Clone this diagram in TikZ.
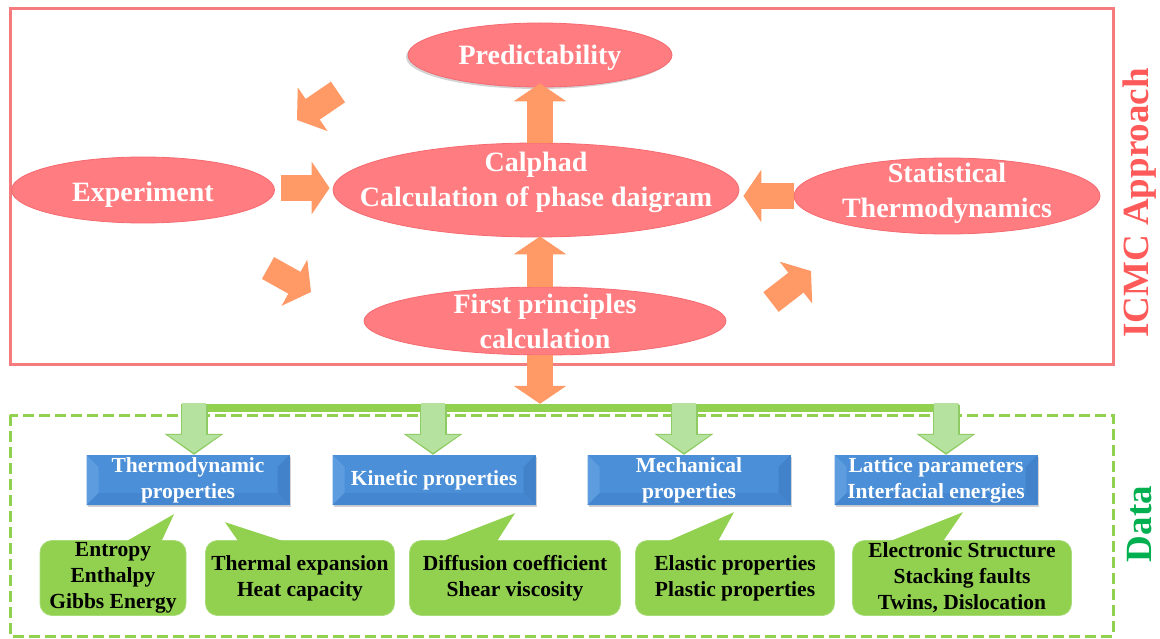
\documentclass[tikz,border=0pt]{standalone}
\usepackage{fontspec}
\setmainfont{Liberation Serif}
\usetikzlibrary{shapes.geometric,arrows.meta,calc,shadows}
\definecolor{ellred}{HTML}{FF7C80}
\definecolor{ellborder}{HTML}{F46A70}
\definecolor{frame}{HTML}{F47C7E}
\definecolor{orng}{HTML}{FF9966}
\definecolor{boxblue}{HTML}{4A8FD8}
\definecolor{bevelL}{HTML}{5C9CDF}
\definecolor{bevelD}{HTML}{4282CB}
\definecolor{callgreen}{HTML}{92D050}
\definecolor{callborder}{HTML}{A8DC78}
\definecolor{dashgreen}{HTML}{92D050}
\definecolor{arrgreen}{HTML}{B6E2A0}
\definecolor{arrgreenD}{HTML}{8ECB62}
\definecolor{icmcred}{HTML}{FF5A5A}
\definecolor{datagreen}{HTML}{00B050}
\tikzset{
  ell/.style={ellipse, fill=ellred, draw=ellborder, line width=0.8pt, inner sep=0pt},
  elltext/.style={inner sep=0pt, text=white, font=\bfseries\fontsize{28}{35}\selectfont, align=center},
  fat/.style={draw=orng, line width=26pt, -{Triangle[width=52pt,length=18pt]}},
  diag/.style={draw=orng, line width=25pt, -{Triangle[width=52pt,length=19pt]}},
  garrowout/.style={draw=arrgreenD, line width=27pt, -{Triangle[width=58pt,length=21pt]}},
  garrowin/.style={draw=arrgreen, line width=24pt, shorten >=2pt, -{Triangle[width=52pt,length=18pt]}},
  bluebox/.style={rectangle, fill=boxblue, minimum width=203pt, minimum height=50pt, inner sep=0pt,
    text=white, font=\bfseries\fontsize{21.5}{26}\selectfont, align=center,
    drop shadow={opacity=0.35, shadow xshift=1pt, shadow yshift=-2pt},
    path picture={
      \fill[bevelL] (path picture bounding box.north west) -- ++(12pt,-12pt) -- ($(path picture bounding box.south west)+(12pt,12pt)$) -- (path picture bounding box.south west) -- cycle;
      \fill[bevelD] (path picture bounding box.north east) -- ++(-12pt,-12pt) -- ($(path picture bounding box.south east)+(-12pt,12pt)$) -- (path picture bounding box.south east) -- cycle;
      \fill[bevelD!70!boxblue] (path picture bounding box.south west) -- ++(12pt,12pt) -- ($(path picture bounding box.south east)+(-12pt,12pt)$) -- (path picture bounding box.south east) -- cycle;
    }},
  callbox/.style={rectangle, rounded corners=12pt, fill=callgreen, draw=callborder, line width=0.8pt,
    minimum height=75pt, inner sep=0pt, text=black,
    font=\bfseries\fontsize{21.5}{26}\selectfont, align=center},
  pointer/.style={fill=callgreen},
  sidelabel/.style={rotate=90, font=\bfseries\fontsize{37}{40}\selectfont}
}
\begin{document}
\begin{tikzpicture}[x=1pt,y=-1pt]
\useasboundingbox (0,0) rectangle (1160,639);
% frames
\draw[frame, line width=3pt] (10,9) rectangle (1113,364);
\draw[dashgreen, line width=3pt, dash pattern=on 11pt off 5pt] (10,415) rectangle (1113,636);
% ellipses
\node[ell, minimum width=264pt, minimum height=64pt,
  drop shadow={opacity=0.35, shadow xshift=-2pt, shadow yshift=-2pt}] (pred) at (540,55) {};
\node[elltext] (predt) at ([yshift=-3pt]pred.center) {Predictability};
\node[ell, minimum width=263pt, minimum height=66pt] (exp) at (143,190) {};
\node[elltext] (expt) at ([yshift=-5pt]exp.center) {Experiment};
\node[ell, minimum width=406pt, minimum height=94pt] (calphad) at (536,190) {};
\node[elltext] (calphadt) at ([yshift=8pt]calphad.center) {Calphad\\Calculation of phase daigram};
\node[ell, minimum width=306pt, minimum height=76pt] (stat) at (947,196) {};
\node[elltext] (statt) at ([yshift=3pt]stat.center) {Statistical\\Thermodynamics};
\node[ell, minimum width=362pt, minimum height=68pt] (fp) at (545,321) {};
\node[elltext] (fpt) at (fp) {First principles\\calculation};
% side labels
\node[sidelabel, text=icmcred] (icmc) at (1140,203) {ICMC Approach};
\node[sidelabel, text=datagreen] (data) at (1140,524) {Data};
% orange arrows
\draw[fat] (calphad.north -| pred.south) -- ([yshift=4pt]pred.south);
\draw[fat] (fp.north -| pred.south) -- ([yshift=1pt]calphad.south -| pred.south);
\draw[fat, shorten <=6pt, shorten >=3pt] ([yshift=2pt]exp.east) -- ([yshift=2pt]calphad.west);
\draw[fat, shorten >=4pt] (stat.west) -- (calphad.east |- stat.west);
% diagonal arrows
\coordinate (d1a) at (338,92);  \coordinate (d1b) at (297,120);
\coordinate (d2a) at (268,268); \coordinate (d2b) at (311,292);
\coordinate (d3a) at (771,302); \coordinate (d3b) at (811,271);
\draw[diag] (d1a) -- (d1b);
\draw[diag] (d2a) -- (d2b);
\draw[diag] (d3a) -- (d3b);
% green bar and arrows
\node[rectangle, fill=callgreen, inner sep=0pt, minimum width=778pt, minimum height=8pt] (bar) at (570,408) {};
% blue boxes
\node[bluebox] (b1) at (188,480) {Thermodynamic\\properties};
\node[bluebox] (b2) at (434,480) {Kinetic properties};
\node[bluebox] (b3) at (689,480) {Mechanical\\properties};
\node[bluebox] (b4) at (936,480) {Lattice parameters\\Interfacial energies};
\coordinate (g1) at (194,0); \coordinate (g2) at (433,0);
\coordinate (g3) at (684,0); \coordinate (g4) at (946,0);
\foreach \g/\b in {g1/b1,g2/b2,g3/b3,g4/b4}{
  \draw[garrowout] ([yshift=-1pt]bar.north -| \g) -- (\b.north -| \g);
  \draw[garrowin] ([yshift=0.5pt]bar.north -| \g) -- (\b.north -| \g);
}
\draw[fat] (fp.south -| pred.south) -- (bar.north -| pred.south);
% callouts
\node[callbox, minimum width=146pt] (c1) at (113,578) {Entropy\\Enthalpy\\Gibbs Energy};
\node[callbox, minimum width=189pt] (c2) at (300,578) {Thermal expansion\\Heat capacity};
\node[callbox, minimum width=211pt] (c3) at (515,578) {Diffusion coefficient\\Shear viscosity};
\node[callbox, minimum width=199pt] (c4) at (735,578) {Elastic properties\\Plastic properties};
\node[callbox, minimum width=219pt] (c5) at (962,578) {Electronic Structure\\Stacking faults\\Twins, Dislocation};
% pointers
\fill[pointer] ($(c1.north west)+(87,1)$) -- ($(b1.south)+(-14,9)$) -- ($(c1.north west)+(122,1)$) -- cycle;
\fill[pointer] ($(c2.north west)+(33,1)$) -- ($(b1.south)+(37,17)$) -- ($(c2.north west)+(78,1)$) -- cycle;
\fill[pointer] ($(c3.north west)+(34,1)$) -- ($(b2.south)+(81,8)$) -- ($(c3.north west)+(88,1)$) -- cycle;
\fill[pointer] ($(c4.north west)+(33,1)$) -- ($(b3.south)+(45,7)$) -- ($(c4.north west)+(83,1)$) -- cycle;
\fill[pointer] ($(c5.north west)+(38,1)$) -- ($(b4.south)+(27,7)$) -- ($(c5.north west)+(91,1)$) -- cycle;
\end{tikzpicture}
\end{document}
